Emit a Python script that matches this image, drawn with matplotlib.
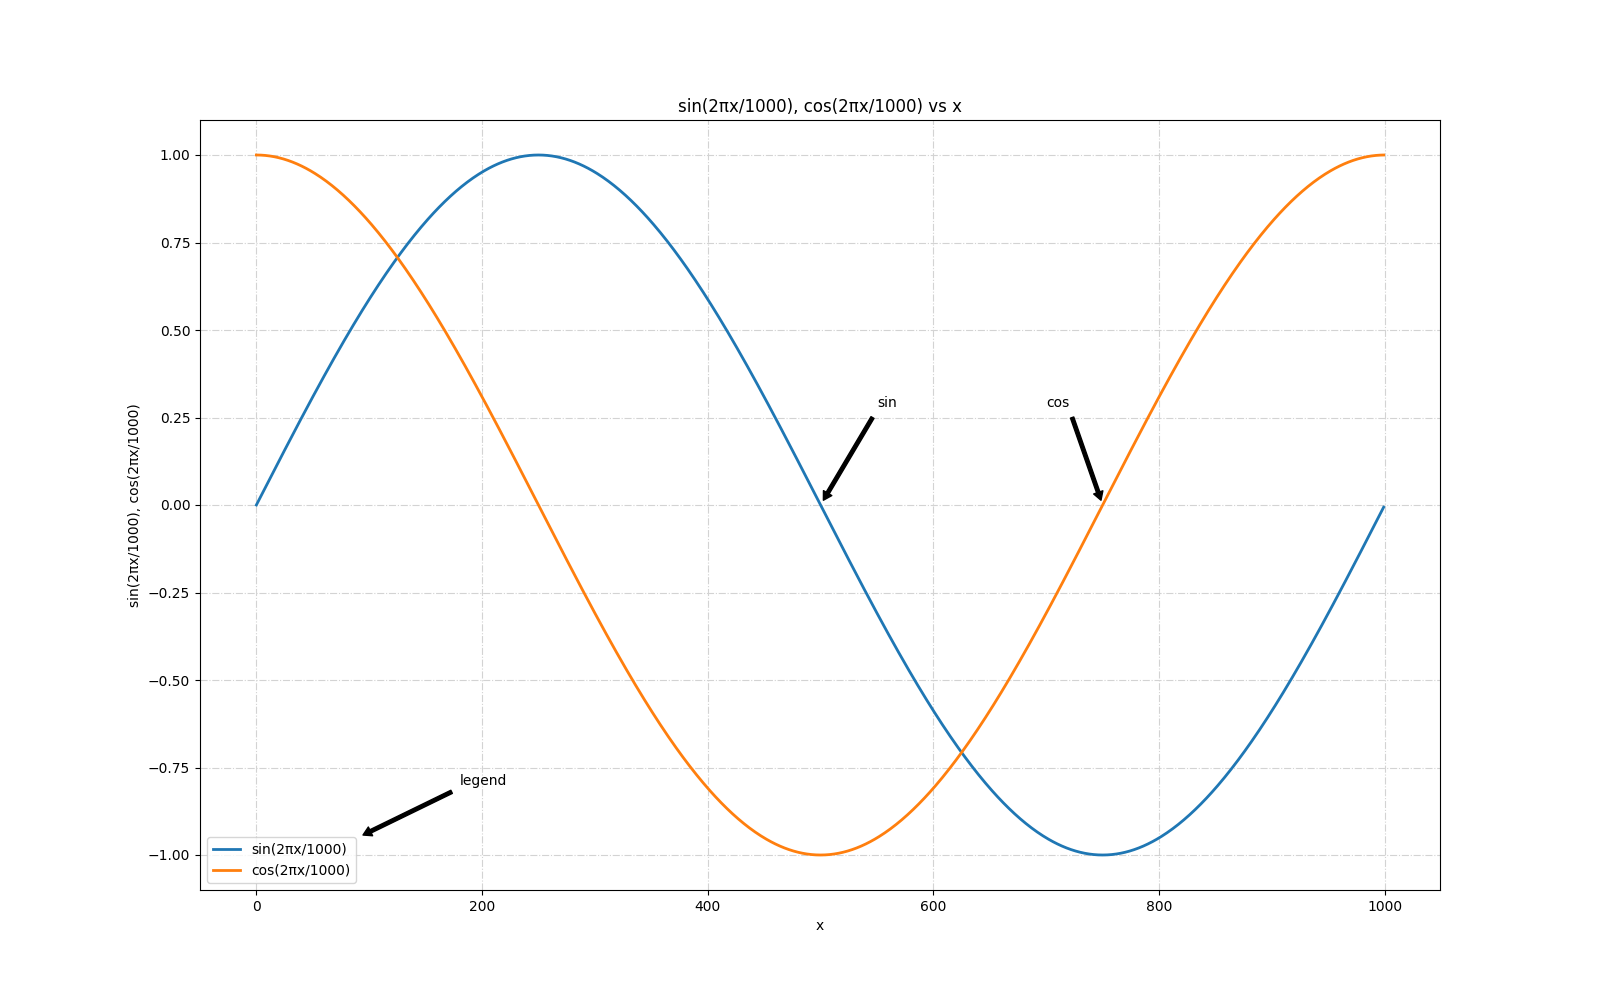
import numpy as np
import matplotlib
matplotlib.use("Agg")
import matplotlib.pyplot as plt

# Data: the chart plots the functions named in its title
x = np.arange(1000)
sin_vals = np.sin(2 * np.pi * x / 1000)
cos_vals = np.cos(2 * np.pi * x / 1000)

series_labels = ["sin(2πx/1000)", "cos(2πx/1000)"]
annotations = [
    ("sin", (500, 0.0), (550, 0.28)),
    ("cos", (750, 0.0), (700, 0.28)),
    ("legend", (90, -0.95), (180, -0.8)),
]

fig, ax = plt.subplots(figsize=(16, 10), dpi=100)
ax.plot(x, sin_vals, linewidth=2, label=series_labels[0])
ax.plot(x, cos_vals, linewidth=2, label=series_labels[1])

for text, xy, xytext in annotations:
    ax.annotate(text, xy=xy, xytext=xytext,
                arrowprops=dict(facecolor="black", shrink=0.05,
                                width=2.5, headwidth=7, headlength=6))

ax.grid(True, linestyle="-.", color="lightgray")
ax.legend(loc="lower left")
ax.set_title("sin(2πx/1000), cos(2πx/1000) vs x")
ax.set_xlabel("x")
ax.set_ylabel("sin(2πx/1000), cos(2πx/1000)")

fig.savefig("out.png")
